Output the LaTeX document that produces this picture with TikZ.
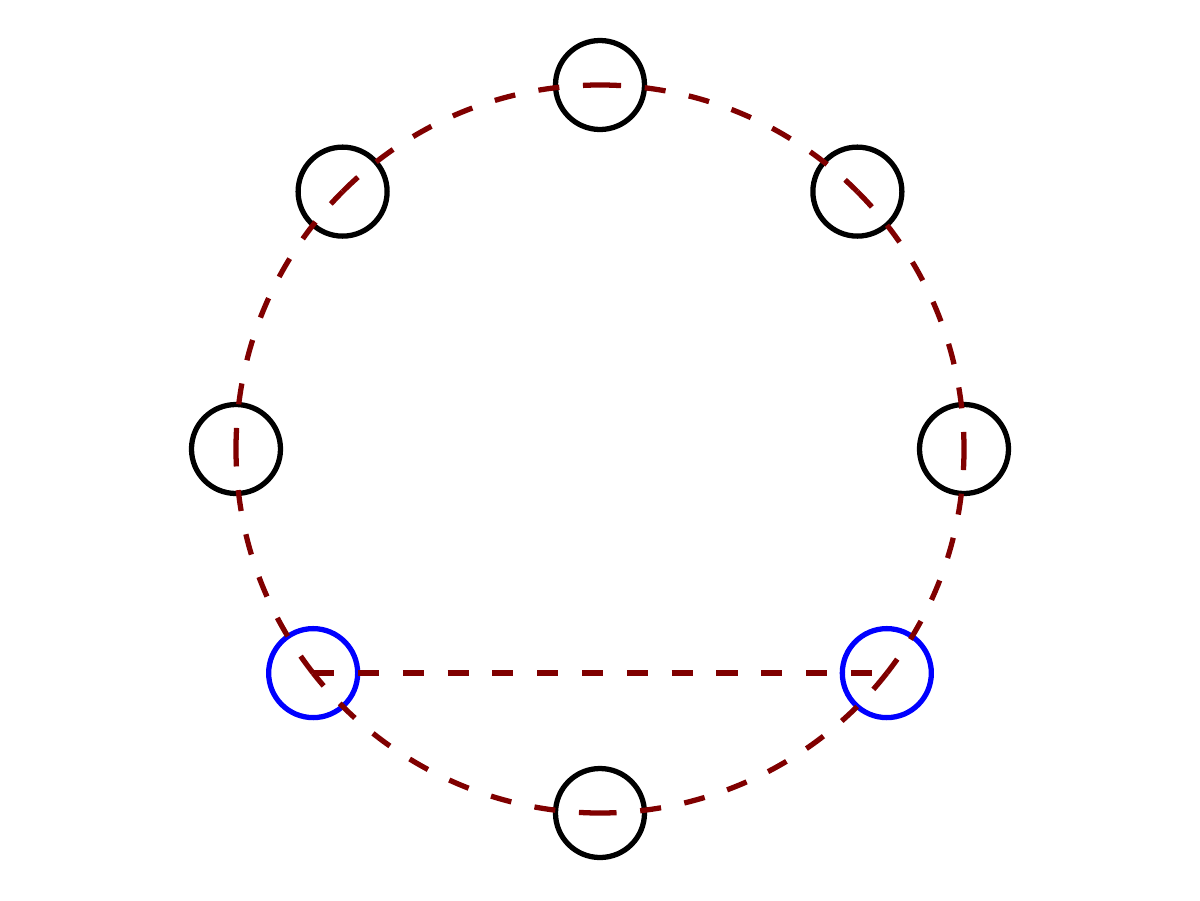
\documentclass[tikz,border=0pt]{standalone}
\usepackage{tikz}
\usetikzlibrary{positioning,calc}
\definecolor{ringred}{RGB}{128,0,0}
\tikzstyle{vertex} = [draw=black, circle, line width=3pt, minimum size=1.78cm, inner sep=0pt]
\tikzstyle{picked} = [vertex, draw=blue]
\tikzstyle{ring} = [draw=ringred, line width=3pt, dash pattern=on 12pt off 13.5pt, looseness=0.89]

\begin{document}
\begin{tikzpicture}
    \useasboundingbox (-12,-9.02) rectangle (12,8.98);
    % Vertices
    \node [vertex] (top) at (90:7.28) {};
    \node [vertex] (topright) at (45:7.28) {};
    \node [vertex] (right) at (0:7.28) {};
    \node [picked] (lowright) at (-38:7.28) {};
    \node [vertex] (bottom) at (-90:7.28) {};
    \node [picked] (lowleft) at (218:7.28) {};
    \node [vertex] (left) at (180:7.28) {};
    \node [vertex] (topleft) at (135:7.28) {};

    % Ring
    \draw [ring] (top.center) to[bend left=22.5] (topright.center);
    \draw [ring] (topright.center) to[bend left=22.5] (right.center);
    \draw [ring] (right.center) to[bend left=19] (lowright.center);
    \draw [ring] (lowright.center) to[bend left=26] (bottom.center);
    \draw [ring] (bottom.center) to[bend left=26] (lowleft.center);
    \draw [ring] (lowleft.center) to[bend left=19] (left.center);
    \draw [ring] (left.center) to[bend left=22.5] (topleft.center);
    \draw [ring] (topleft.center) to[bend left=22.5] (top.center);
    % Chord
    \draw [ring] (lowleft.center) -- (lowright.center);
\end{tikzpicture}
\end{document}
